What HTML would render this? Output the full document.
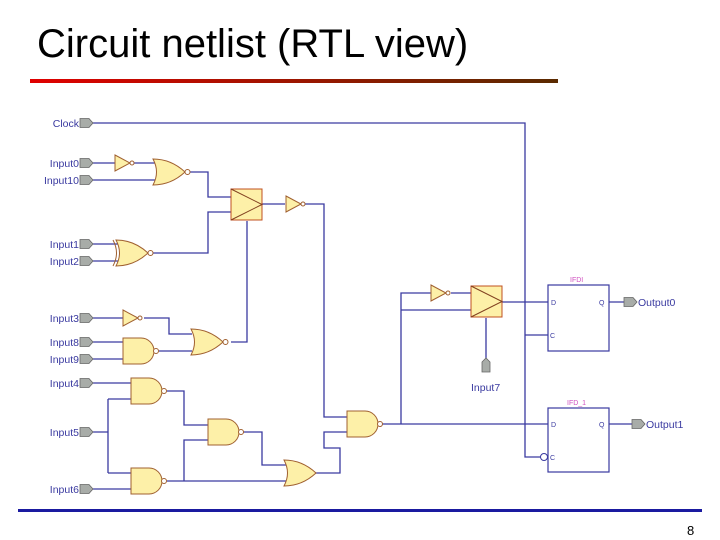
<!DOCTYPE html>
<html><head><meta charset="utf-8"><style>
html,body{margin:0;padding:0;background:#fff;}
body{width:720px;height:540px;overflow:hidden;position:relative;font-family:"Liberation Sans",sans-serif;}
.t{position:absolute;left:37px;top:22px;font-size:40px;color:#000;white-space:nowrap;}
</style></head><body>
<div class="t">Circuit netlist (RTL view)</div>
<svg width="720" height="540" style="position:absolute;left:0;top:0">
<defs>
<linearGradient id="g" x1="0" x2="1"><stop offset="0" stop-color="#e00000"/><stop offset="1" stop-color="#5a2a00"/></linearGradient>
<g id="port"><path d="M0,-4.5 H9 L13,0 L9,4.5 H0 Z" fill="#a8aca8" stroke="#666" stroke-width="0.8"/></g>
<g id="not"><path d="M0,-8 L15,0 L0,8 Z" fill="#fdf0a8" stroke="#a06030"/><circle cx="17" cy="0" r="2" fill="#fff" stroke="#a06030"/></g>
<g id="nand"><path d="M0,-13 H18 A13,13 0 0 1 18,13 H0 Z" fill="#fdf0a8" stroke="#a06030"/><circle cx="33" cy="0" r="2.5" fill="#fff" stroke="#a06030"/></g>
<g id="or"><path d="M0,-13 Q18,-13 32,0 Q18,13 0,13 Q7,0 0,-13 Z" fill="#fdf0a8" stroke="#a06030"/></g>
<g id="nor"><path d="M0,-13 Q18,-13 32,0 Q18,13 0,13 Q7,0 0,-13 Z" fill="#fdf0a8" stroke="#a06030"/><circle cx="34.5" cy="0" r="2.5" fill="#fff" stroke="#a06030"/></g>
<g id="mux"><rect x="0" y="0" width="31" height="31" fill="#fdf0a8" stroke="#c05020"/><path d="M0,0 L31,15.5 L0,31" fill="none" stroke="#804020"/></g>
</defs>
<rect x="30" y="79" width="528" height="4" fill="url(#g)"/>
<rect x="18" y="509" width="684" height="3" fill="#1a1aa0"/>
<text x="687" y="535" font-size="13" fill="#000">8</text>

<g fill="none" stroke="#3a3aa0" stroke-width="1.3">
<path d="M93,123 H525 V457 H541"/>
<path d="M525,335 H548"/>
<path d="M93,163 H115 M134,163 H155 M93,180 H157"/>
<path d="M190,172 H208 V197 H231 M150,253 H208 V212 H231"/>
<path d="M262,204 H285 M304,204 H324 V417 H349"/>
<path d="M247,221 V342 H231"/>
<path d="M93,244 H119 M93,261 H119"/>
<path d="M93,318 H123 M144,318 H169 V334 H192 M159,351 H192 M93,342 H123 M93,359 H123"/>
<path d="M93,383 H131 M93,432 H108 M108,399 V473 M108,399 H131 M108,473 H131 M93,489 H131"/>
<path d="M167,391 H184 V425 H208 M167,481 H287 M184,481 V440 H208"/>
<path d="M243,432 H262 V465 H287"/>
<path d="M315,473 H340 V448 H324 V432 H347"/>
<path d="M382,424 H548 M401,424 V293 H431 M451,293 H471 M401,310 H471"/>
<path d="M502,302 H548 M486,318 V358"/>
<path d="M609,302 H624 M609,424 H632"/>
</g>
<rect x="548" y="285" width="61" height="66" fill="none" stroke="#3a3aa0" stroke-width="1.2"/>
<rect x="548" y="408" width="61" height="64" fill="none" stroke="#3a3aa0" stroke-width="1.2"/>
<circle cx="544" cy="457" r="3.5" fill="#fff" stroke="#3a3aa0"/>
<g font-size="7" fill="#3a3aa0"><text x="551" y="305">D</text><text x="599" y="305">Q</text><text x="550" y="338">C</text>
<text x="551" y="427">D</text><text x="599" y="427">Q</text><text x="550" y="460">C</text></g>
<g font-size="7" fill="#d050c0"><text x="570" y="282">IFDI</text><text x="567" y="405">IFD_1</text></g>

<use href="#not" x="115" y="163"/><use href="#nor" x="153" y="172"/>
<use href="#mux" x="231" y="189"/><use href="#not" x="286" y="204"/>
<use href="#nor" x="116" y="253"/><path d="M113,240 Q120,253 113,266" fill="none" stroke="#a06030"/>
<use href="#not" x="123" y="318"/><use href="#nand" x="123" y="351"/><use href="#nor" x="191" y="342"/>
<use href="#nand" x="131" y="391"/><use href="#nand" x="208" y="432"/><use href="#nand" x="131" y="481"/>
<use href="#or" x="284" y="473"/><use href="#nand" x="347" y="424"/>
<use href="#not" x="431" y="293"/><use href="#mux" x="471" y="286"/>
<path d="M482,372 V362 L486,358 L490,362 V372 Z" fill="#a8aca8" stroke="#666" stroke-width="0.8"/>

<use href="#port" x="80" y="123"/><use href="#port" x="80" y="163"/><use href="#port" x="80" y="180"/>
<use href="#port" x="80" y="244"/><use href="#port" x="80" y="261"/><use href="#port" x="80" y="318"/>
<use href="#port" x="80" y="342"/><use href="#port" x="80" y="359"/><use href="#port" x="80" y="383"/>
<use href="#port" x="80" y="432"/><use href="#port" x="80" y="489"/>
<use href="#port" x="624" y="302"/><use href="#port" x="632" y="424"/>
<g font-size="10.5" fill="#3a3aa0" text-anchor="end">
<text x="79" y="127">Clock</text><text x="79" y="167">Input0</text><text x="79" y="184">Input10</text>
<text x="79" y="248">Input1</text><text x="79" y="265">Input2</text><text x="79" y="322">Input3</text>
<text x="79" y="346">Input8</text><text x="79" y="363">Input9</text><text x="79" y="387">Input4</text>
<text x="79" y="436">Input5</text><text x="79" y="493">Input6</text>
</g>
<g font-size="10.5" fill="#3a3aa0">
<text x="471" y="391">Input7</text><text x="638" y="306">Output0</text><text x="646" y="428">Output1</text>
</g>
</svg>
</body></html>
